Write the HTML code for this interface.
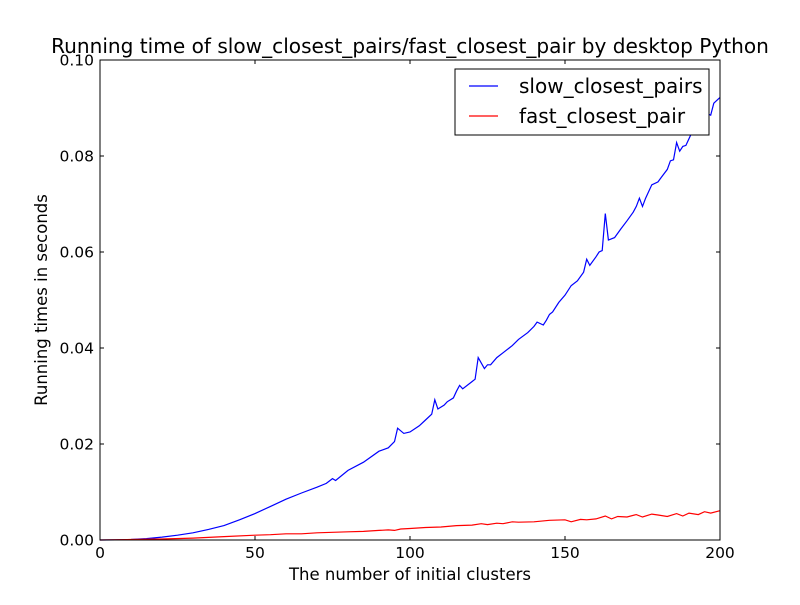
<!DOCTYPE html>
<html><head><meta charset="utf-8"><style>
body{margin:0;background:#fff;font-family:"Liberation Sans","DejaVu Sans",sans-serif}
svg text{font-family:"DejaVu Sans","Liberation Sans",sans-serif}
</style></head><body>
<svg id="chart" width="800" height="600" xmlns="http://www.w3.org/2000/svg">
<rect width="800" height="600" fill="#fff"/>
<g id="plot"></g>
</svg>
<script>
const slowX=[0,5,10,15,20,25,30,35,40,45,50,55,60,65,70,73,75,76,80,85,90,93,95,96,98,100,103,105,107,108,109,111,112,114,115,116,117,120,121,122,124,125,126,128,130,133,135,138,140,141,143,144,145,146,148,150,152,154,156,157,158,160,161,162,163,164,166,168,170,172,173,174,175,176,178,180,181,183,184,185,186,187,188,189,191,193,195,196,197,198,200];
const slowY=[0,0.00003,0.0001,0.0003,0.0006,0.001,0.0015,0.0022,0.003,0.0042,0.0055,0.007,0.0085,0.0098,0.011,0.0118,0.0128,0.0124,0.0145,0.0162,0.0185,0.0192,0.0205,0.0233,0.0222,0.0225,0.0238,0.025,0.0262,0.0292,0.0273,0.0281,0.0288,0.0296,0.031,0.0322,0.0315,0.033,0.0335,0.038,0.0357,0.0365,0.0365,0.038,0.039,0.0405,0.0418,0.0432,0.0445,0.0454,0.0448,0.0458,0.047,0.0475,0.0495,0.051,0.053,0.054,0.0558,0.0585,0.0572,0.059,0.06,0.0603,0.068,0.0625,0.063,0.0648,0.0665,0.0683,0.0695,0.0712,0.0695,0.0712,0.074,0.0746,0.0755,0.0772,0.079,0.0792,0.0828,0.081,0.082,0.0822,0.085,0.0865,0.0878,0.0888,0.0885,0.091,0.0922];
const fastX=[0,10,20,30,40,50,55,60,65,70,75,80,85,90,93,95,97,100,105,110,115,120,123,125,128,130,133,135,140,145,150,152,155,157,160,163,165,167,170,173,175,178,180,183,186,188,190,193,195,197,200];
const fastY=[0,0.0001,0.0002,0.0004,0.0007,0.001,0.0011,0.0013,0.0013,0.0015,0.0016,0.0017,0.0018,0.002,0.0021,0.002,0.0023,0.0024,0.0026,0.0027,0.003,0.0031,0.0034,0.0032,0.0035,0.0034,0.0038,0.0037,0.0038,0.0041,0.0042,0.0038,0.0043,0.0042,0.0044,0.005,0.0044,0.0049,0.0048,0.0053,0.0048,0.0054,0.0052,0.0049,0.0055,0.005,0.0056,0.0053,0.0059,0.0056,0.0061];
const xTicks=[0,50,100,150,200];
const yTicks=[0,0.02,0.04,0.06,0.08,0.1];
const yLabels=["0.00","0.02","0.04","0.06","0.08","0.10"];
const L=100,R=720,T=60,B=540;
const sx=v=>L+(v-0)/(200-0)*(R-L);
const sy=v=>B-(v-0)/(0.1-0)*(B-T);
const NS="http://www.w3.org/2000/svg";
const g=document.getElementById('plot');
function mk(t,a){const e=document.createElementNS(NS,t);for(const k in a)e.setAttribute(k,a[k]);g.appendChild(e);return e;}
function line(xs,ys,c,name){
  const d=xs.map((x,i)=>(i?'L':'M')+sx(x).toFixed(1)+','+sy(ys[i]).toFixed(1)).join('');
  const p=mk('path',{d:d,fill:'none',stroke:c,'stroke-width':1.2});
  
  
}
line(slowX,slowY,'#0000ff','slow-closest-pairs-line');
line(fastX,fastY,'#ff0000','fast-closest-pair-line');
const frame=mk('rect',{x:L,y:T,width:R-L,height:B-T,fill:'none',stroke:'#000','stroke-width':1});


xTicks.forEach(v=>{
  const x=sx(v);
  mk('line',{x1:x,y1:B,x2:x,y2:B-4,stroke:'#000'});
  mk('line',{x1:x,y1:T,x2:x,y2:T+4,stroke:'#000'});
  const t=mk('text',{x:x,y:B+18,'text-anchor':'middle','font-size':15.5});
  t.textContent=v;
  
  
});
yTicks.forEach((v,i)=>{
  const y=sy(v);
  mk('line',{x1:L,y1:y,x2:L+4,y2:y,stroke:'#000'});
  mk('line',{x1:R,y1:y,x2:R-4,y2:y,stroke:'#000'});
  const t=mk('text',{x:L-6,y:y+5.5,'text-anchor':'end','font-size':15.5});
  t.textContent=yLabels[i];
  
  
});
const title=mk('text',{x:410,y:53,'text-anchor':'middle','font-size':20.1});
title.textContent='Running time of slow_closest_pairs/fast_closest_pair by desktop Python';


const xt=mk('text',{x:410,y:580,'text-anchor':'middle','font-size':16.5});
xt.textContent='The number of initial clusters';


const yt=mk('text',{x:47,y:300,'text-anchor':'middle','font-size':16.5,transform:'rotate(-90 47 300)'});
yt.textContent='Running times in seconds';


const lg=mk('rect',{x:455,y:69,width:254,height:66,fill:'#fff',stroke:'#000','stroke-width':1});


[['#0000ff','slow_closest_pairs',86],['#ff0000','fast_closest_pair',116]].forEach(([c,s,y])=>{
  mk('line',{x1:469,y1:y,x2:498,y2:y,stroke:c,'stroke-width':1.2});
  const t=mk('text',{x:519,y:y+7,'font-size':20});
  t.textContent=s;
  
  
});
</script>
</body></html>
